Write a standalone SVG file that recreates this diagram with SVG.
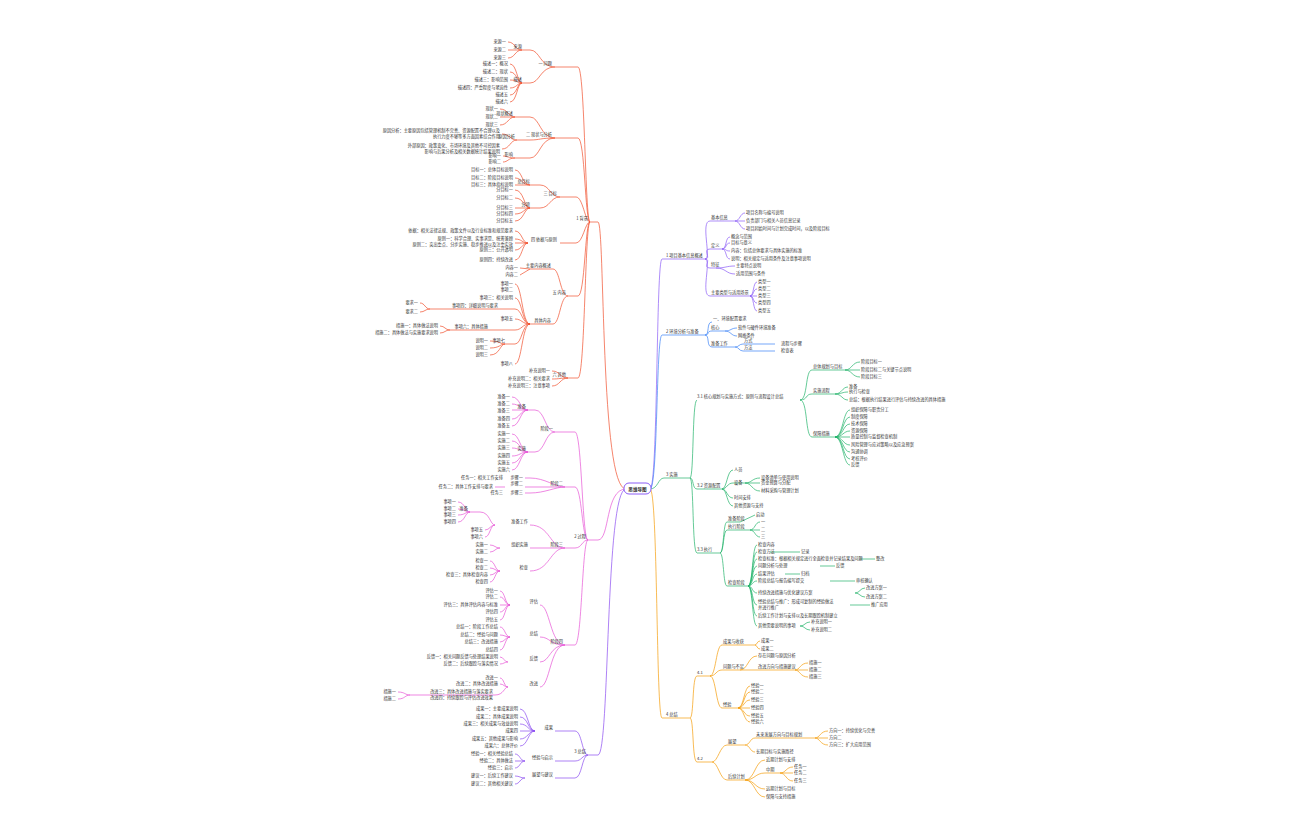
<svg xmlns="http://www.w3.org/2000/svg" width="1296" height="840" viewBox="0 0 1296 840">
<style>
text{font-family:"Noto Sans CJK SC","Liberation Sans",sans-serif;font-size:4.2px;fill:#333}
.b{font-size:4.6px}
path{fill:none;stroke-width:0.7}
.p{stroke:#8b5cf6}.u{stroke:#3b82f6}.g{stroke:#22b36a}.o{stroke:#f59e0b}.r{stroke:#f0502e}.k{stroke:#e655d6}.v{stroke:#8b4cf0}
</style>
<rect width="1296" height="840" fill="#fff"/>
<g id="connectors">
<path class="p" d="M650 489 C658 489 656 259 662 259 L705 259"/>
<path class="u" d="M650 489 C658 489 656 335 662 335 L705 335"/>
<path class="g" d="M650 489 C658 489 658 478 664 478 L690 478"/>
<path class="o" d="M650 489 C658 489 656 718 662 718 L690 718"/>
<path class="r" d="M626 489 C600 489 605 222 598 222 L590 222"/>
<path class="k" d="M626 489 C605 489 610 540 598 540 L588 540"/>
<path class="v" d="M626 489 C605 489 610 755 598 755 L588 755"/>
<path class="p" d="M705 259 C712 259 700 221 710 221 L735 221 M705 259 C712 259 702 249 710 249 L722 249 M705 259 C712 259 702 268 710 268 L716 268 M705 259 C712 259 700 296 710 296 L750 296"/>
<path class="p" d="M735 221 C740 221 740 213 745 213 M735 221 L745 221 M735 221 C740 221 740 229 745 229"/>
<path class="p" d="M722 249 C727 249 725 237 730 237 M722 249 C727 249 725 243 730 243 M722 249 C727 249 725 251 730 251 M722 249 C727 249 725 259 730 259"/>
<path class="p" d="M716 268 C726 268 726 266 735 266 M716 268 C726 268 726 274 735 274"/>
<path class="p" d="M750 296 C754 296 753 282 757 282 M750 296 C754 296 753 289 757 289 M750 296 L757 296 M750 296 C754 296 753 303 757 303 M750 296 C754 296 753 311 757 311"/>
<path class="u" d="M705 335 C710 335 706 322 712 322 M705 335 C710 335 706 331 712 331 L725 331 M705 335 C710 335 706 347 712 347 L735 347"/>
<path class="u" d="M725 331 C731 331 731 328 737 328 M725 331 C731 331 731 336 737 336 M735 347 C739 347 739 344 743 344 L775 344 M735 347 C739 347 739 351 743 351 L775 351"/>
<path class="g" d="M690 478 C694 478 692 400 697 400 M690 478 C694 478 692 489 697 489 L722 489 M690 478 C694 478 692 553 697 553 L720 553"/>
<path class="g" d="M800 400 C808 400 805 370 812 370 L845 370 M800 400 C808 400 805 394 812 394 L835 394 M800 400 C808 400 805 437 812 437 L835 437"/>
<path class="g" d="M845 370 C852 370 852 362 860 362 M845 370 L860 370 M845 370 C852 370 852 377 860 377"/>
<path class="g" d="M835 394 C842 394 842 387 848 387 M835 394 C842 394 842 392 848 392 M835 394 C842 394 842 400 848 400"/>
<path class="g" d="M835 437 C843 437 843 410 850 410 M835 437 C843 437 843 417 850 417 M835 437 C843 437 843 424 850 424 M835 437 C843 437 843 431 850 431 M835 437 L850 437 M835 437 C843 437 843 445 850 445 M835 437 C843 437 843 452 850 452 M835 437 C843 437 843 459 850 459 M835 437 C843 437 843 465 850 465"/>
<path class="g" d="M722 489 C727 489 727 470 733 470 M722 489 C727 489 727 483 733 483 L745 483 M722 489 C727 489 727 498 733 498 M722 489 C727 489 727 506 733 506 M745 483 C752 483 752 478 760 478 M745 483 L760 483 M745 483 C752 483 752 491 760 491"/>
<path class="g" d="M720 553 C724 553 723 522 727 522 L740 522 M720 553 C724 553 723 530 727 530 L750 530 M720 553 C724 553 723 586 727 586 L748 586"/>
<path class="g" d="M740 522 L755 515 M750 530 C755 530 755 522 760 522 M750 530 L760 530 M750 530 C755 530 755 537 760 537"/>
<path class="g" d="M748 586 C753 586 752 545 757 545 M748 586 C753 586 752 552 757 552 M748 586 C753 586 752 559 757 559 M748 586 C753 586 752 566 757 566 M748 586 C753 586 752 574 757 574 M748 586 C753 586 752 581 757 581 M748 586 C753 586 752 593 757 593 M748 586 C753 586 752 605 757 605 M748 586 C753 586 752 616 757 616 M748 586 C753 586 752 626 757 626"/>
<path class="g" d="M770 552 L800 552 M785 574 L800 574 M860 559 L875 559 M820 566 L835 566 M830 581 L855 581 M855 593 C860 593 860 588 865 588 M855 593 C860 593 860 597 865 597 M850 605 L870 605 M800 626 C805 626 805 622 810 622 M800 626 C805 626 805 630 810 630"/>
<path class="o" d="M690 718 C694 718 692 676 697 676 L710 676 M690 718 C694 718 692 762 697 762 L712 762"/>
<path class="o" d="M710 676 C716 676 716 645 722 645 L755 645 M710 676 C716 676 716 670 722 670 L740 670 M710 676 C716 676 716 708 722 708 L738 708"/>
<path class="o" d="M755 645 C757 645 757 641 760 641 M755 645 C757 645 757 649 760 649 M740 670 C748 670 748 656 757 656 M740 670 L757 670 L795 670 M795 670 C800 670 800 663 808 663 M795 670 L808 670 M795 670 C800 670 800 677 808 677"/>
<path class="o" d="M738 708 C744 708 744 686 750 686 M738 708 C744 708 744 692 750 692 M738 708 C744 708 744 700 750 700 M738 708 L750 708 M738 708 C744 708 744 716 750 716 M738 708 C744 708 744 722 750 722"/>
<path class="o" d="M712 762 C718 762 720 745 727 745 L745 745 M712 762 C718 762 720 780 727 780 L745 780"/>
<path class="o" d="M745 745 C750 745 750 738 755 738 L815 738 M815 738 C820 738 820 731 828 731 M815 738 L828 738 M815 738 C820 738 820 745 828 745 M745 745 C750 745 750 752 755 752"/>
<path class="o" d="M745 780 C755 780 755 760 765 760 M745 780 C755 780 755 773 765 773 L780 773 M745 780 C755 780 755 789 765 789 M745 780 C755 780 755 797 765 797 M780 773 C786 773 786 767 793 767 M780 773 L793 773 M780 773 C786 773 786 781 793 781"/>
<path class="r" d="M590 222 C585 222 585 67 578 67 L555 67 M590 222 C585 222 585 138 578 138 L555 138 M590 222 C585 222 583 197 576 197 L560 197 M590 222 C585 222 583 243 576 243 L560 243 M590 222 C585 222 585 296 578 296 L568 296 M590 222 C585 222 585 378 578 378 L568 378"/>
<path class="r" d="M555 67 C540 67 540 50 530 50 L522 50 M555 67 C540 67 540 83 530 83 L522 83"/>
<path class="r" d="M522 50 C515 50 515 42 508 42 M522 50 L508 50 M522 50 C515 50 515 58 508 58 M522 83 C517 83 517 64 510 64 M522 83 C517 83 517 72 510 72 M522 83 C517 83 517 80 510 80 M522 83 C517 83 517 88 510 88 M522 83 C517 83 517 95 510 95 M522 83 C517 83 517 102 510 102"/>
<path class="r" d="M555 138 C540 138 540 117 530 117 L515 117 M555 138 C540 138 540 140 530 140 L517 140 M555 138 C540 138 540 158 530 158 L515 158"/>
<path class="r" d="M515 117 C508 117 508 109 500 109 M515 117 L500 117 M515 117 C508 117 508 125 500 125 M517 140 C510 140 510 134 502 134 M517 140 C510 140 510 149 502 149 M515 158 C508 158 508 156 503 156 M515 158 C508 158 508 162 503 162"/>
<path class="r" d="M560 197 C550 197 550 185 540 185 L530 185 M560 197 C550 197 550 208 540 208 L530 208"/>
<path class="r" d="M530 185 C522 185 522 170 515 170 M530 185 C522 185 522 178 515 178 M530 185 L515 185 M530 208 C524 208 524 190 515 190 M530 208 C524 208 524 198 515 198 M530 208 L515 208 M530 208 C524 208 524 214 515 214 M530 208 C524 208 524 221 515 221"/>
<path class="r" d="M528 243 C522 243 522 231 515 231 M528 243 C522 243 522 239 515 239 M528 243 L515 243 M528 243 C522 243 522 250 515 250 M528 243 C522 243 522 260 515 260"/>
<path class="r" d="M568 296 C560 296 560 269 553 269 L530 269 M568 296 C560 296 560 324 553 324 L530 324"/>
<path class="r" d="M530 269 L520 268 M530 269 L520 275 M530 324 C522 324 522 284 515 284 M530 324 C522 324 522 298 515 298 M530 324 C522 324 522 309 515 309 L500 309 M530 324 C522 324 522 319 515 319 M530 324 C522 324 522 330 515 330 L490 330 M530 324 C522 324 522 344 515 344 L505 344 M530 324 C522 324 522 364 515 364"/>
<path class="r" d="M500 309 L460 309 M460 309 L430 309 C425 309 425 303 420 303 M430 309 C425 309 425 312 420 312 M490 330 L450 330 M450 330 C445 330 445 326 440 326 M450 330 C445 330 445 333 440 333 M505 344 C500 344 500 341 490 341 M505 344 C500 344 500 348 490 348 M505 344 C500 344 500 355 490 355"/>
<path class="r" d="M568 378 C560 378 560 371 552 371 M568 378 C560 378 560 379 552 379 M568 378 C560 378 560 386 552 386"/>
<path class="k" d="M588 540 C582 540 582 432 575 432 L555 432 M588 540 C582 540 582 487 575 487 L565 487 M588 540 C582 540 582 548 575 548 L565 548 M588 540 C582 540 582 645 575 645 L565 645"/>
<path class="k" d="M555 432 C545 432 545 410 535 410 L528 410 M555 432 C545 432 545 452 535 452 L528 452"/>
<path class="k" d="M528 410 C520 410 520 397 512 397 M528 410 C520 410 520 404 512 404 M528 410 L512 410 M528 410 C520 410 520 419 512 419 M528 410 C520 410 520 426 512 426"/>
<path class="k" d="M528 452 C520 452 520 434 512 434 M528 452 C520 452 520 441 512 441 M528 452 C520 452 520 448 512 448 M528 452 C520 452 520 456 512 456 M528 452 C520 452 520 463 512 463 M528 452 C520 452 520 470 512 470"/>
<path class="k" d="M565 487 C555 487 545 478 530 478 L525 478 M565 487 L525 487 M565 487 C555 487 545 493 530 493 L525 493 M505 487 L495 487"/>
<path class="k" d="M565 548 C550 548 550 525 530 525 M565 548 L530 548 M565 548 C550 548 550 571 530 571"/>
<path class="k" d="M495 525 C490 525 490 512 480 512 L470 512 M470 512 C465 512 465 502 458 502 M470 512 C465 512 465 509 458 509 M470 512 C465 512 465 515 458 515 M470 512 C465 512 465 522 458 522 M495 525 C490 525 490 530 485 530 M495 525 C490 525 490 537 485 537"/>
<path class="k" d="M500 548 C495 548 495 545 490 545 M500 548 C495 548 495 552 490 552 M500 571 C495 571 495 561 490 561 M500 571 C495 571 495 568 490 568 M500 571 C495 571 495 575 490 575 M500 571 C495 571 495 582 490 582"/>
<path class="k" d="M565 645 C550 645 550 605 540 605 M565 645 C550 645 550 637 540 637 M565 645 C550 645 550 662 540 662 M565 645 C550 645 550 687 540 687"/>
<path class="k" d="M510 605 C505 605 505 591 500 591 M510 605 C505 605 505 597 500 597 M510 605 L500 605 M510 605 C505 605 505 612 500 612 M510 605 C505 605 505 620 500 620 M510 637 C505 637 505 627 500 627 M510 637 C505 637 505 635 500 635 M510 637 C505 637 505 642 500 642 M510 637 C505 637 505 650 500 650 M508 662 C504 662 504 657 500 657 M508 662 C504 662 504 664 500 664 M508 687 C504 687 504 678 500 678 M508 687 C504 687 504 684 500 684 M508 687 C504 687 504 695 495 695 L410 695 M410 695 C405 695 405 692 398 692 M410 695 C405 695 405 699 398 699"/>
<path class="v" d="M588 755 C582 755 582 731 575 731 L555 731 M588 755 C582 755 582 761 575 761 L555 761 M588 755 C582 755 582 778 575 778 L555 778"/>
<path class="v" d="M535 731 C528 731 528 709 520 709 M535 731 C528 731 528 717 520 717 M535 731 C528 731 528 724 520 724 M535 731 L520 731 M535 731 C528 731 528 739 520 739 M535 731 C528 731 528 746 520 746"/>
<path class="v" d="M525 761 C520 761 520 754 515 754 M525 761 L515 761 M525 761 C520 761 520 768 515 768 M525 778 C520 778 520 776 515 776 M525 778 C520 778 520 784 515 784"/>
</g>
<g id="center"><rect x="624" y="483" width="27" height="11" rx="5" fill="#fff" stroke="#8b5cf6" stroke-width="1"/><text x="637.5" y="490.5" text-anchor="middle" class="b" style="font-weight:bold">思维导图</text></g>
<g id="right">
<text x="666" y="257">1 项目基本信息概述</text>
<text x="711" y="219">基本信息</text><text x="746" y="214">项目名称与编号说明</text><text x="746" y="222">负责部门与相关人员信息记录</text><text x="746" y="230">项目起始时间与计划完成时间，以及阶段目标</text>
<text x="711" y="247">定义</text><text x="731" y="238">概念与范围</text><text x="731" y="244">目标与意义</text><text x="731" y="252">内容：包括总体要求与具体实施的标准</text><text x="731" y="260">说明：相关规定与适用条件及注意事项说明</text>
<text x="711" y="266">特征</text><text x="736" y="267">主要特点说明</text><text x="736" y="275">适用范围与条件</text>
<text x="711" y="294">主要类型与适用场景</text><text x="758" y="283">类型一</text><text x="758" y="290">类型二</text><text x="758" y="297">类型三</text><text x="758" y="304">类型四</text><text x="758" y="312">类型五</text>
<text x="666" y="333">2 环境分析与准备</text>
<text x="713" y="320">一、环境配置要求</text><text x="711" y="329">核心</text><text x="738" y="329">软件与硬件环境准备</text><text x="738" y="337">网络条件</text>
<text x="711" y="345">准备工作</text><text x="744" y="342">方式</text><text x="744" y="349">方法</text><text x="781" y="345">流程与步骤</text><text x="781" y="352">检查表</text>
<text x="666" y="476">3 实施</text>
<text x="697" y="398">3.1 核心规划与实施方式：原则与流程设计总结</text>
<text x="813" y="368">总体规划与目标</text><text x="861" y="363">阶段目标一</text><text x="861" y="371">阶段目标二与关键节点说明</text><text x="861" y="378">阶段目标三</text>
<text x="813" y="392">实施流程</text><text x="849" y="388">准备</text><text x="849" y="393">执行与检查</text><text x="849" y="401">总结：根据执行结果进行评估与持续改进的具体措施</text>
<text x="813" y="435">保障措施</text><text x="851" y="411">组织保障与职责分工</text><text x="851" y="418">制度保障</text><text x="851" y="425">技术保障</text><text x="851" y="432">资源保障</text><text x="851" y="438">质量控制与监督检查机制</text><text x="851" y="446">风险管理与应对策略以及应急预案</text><text x="851" y="453">沟通协调</text><text x="851" y="460">考核评价</text><text x="851" y="466">反馈</text>
<text x="697" y="487">3.2 资源配置</text>
<text x="734" y="471">人员</text><text x="734" y="484">设备</text><text x="761" y="479">设备清单与使用说明</text><text x="761" y="484">资金预算与分配</text><text x="761" y="492">材料采购与管理计划</text><text x="734" y="499">时间安排</text><text x="734" y="507">其他资源与支持</text>
<text x="697" y="551">3.3 执行</text>
<text x="728" y="520">准备阶段</text><text x="756" y="516">启动</text><text x="728" y="528">执行阶段</text><text x="761" y="523">一</text><text x="761" y="531">二</text><text x="761" y="538">三</text>
<text x="728" y="584">检查阶段</text><text x="758" y="546">检查内容</text><text x="758" y="553">检查方法</text><text x="801" y="553">记录</text><text x="758" y="560">检查标准：根据相关规定进行全面检查并记录结果及问题</text><text x="876" y="560">整改</text><text x="758" y="567">问题分析与处理</text><text x="836" y="567">反馈</text><text x="758" y="575">结果评估</text><text x="801" y="575">归档</text><text x="758" y="582">阶段总结与报告编写提交</text><text x="856" y="582">审核确认</text><text x="758" y="594">持续改进措施与优化建议方案</text><text x="866" y="589">改进方案一</text><text x="866" y="598">改进方案二</text><text x="758" y="603">经验总结与推广：形成可复制的经验做法</text><text x="758" y="609">并进行推广</text><text x="871" y="606">推广应用</text><text x="758" y="617">后续工作计划与安排以及长期跟踪机制建立</text><text x="758" y="627">其他需要说明的事项</text><text x="811" y="623">补充说明一</text><text x="811" y="631">补充说明二</text>
<text x="666" y="716">4 总结</text>
<text x="697" y="674">4.1</text><text x="723" y="643">成果与收获</text><text x="761" y="642">成果一</text><text x="761" y="650">成果二</text>
<text x="723" y="668">问题与不足</text><text x="758" y="657">存在问题与原因分析</text><text x="758" y="668">改进方向与措施建议</text><text x="809" y="664">措施一</text><text x="809" y="671">措施二</text><text x="809" y="678">措施三</text>
<text x="723" y="706">经验</text><text x="751" y="687">经验一</text><text x="751" y="693">经验二</text><text x="751" y="701">经验三</text><text x="751" y="709">经验四</text><text x="751" y="717">经验五</text><text x="751" y="723">经验六</text>
<text x="697" y="760">4.2</text><text x="728" y="743">展望</text><text x="756" y="736">未来发展方向与目标规划</text><text x="829" y="732">方向一：持续优化与完善</text><text x="829" y="739">方向二</text><text x="829" y="746">方向三：扩大应用范围</text><text x="756" y="753">长期目标与实施路径</text>
<text x="728" y="778">后续计划</text><text x="766" y="761">近期计划与安排</text><text x="766" y="771">中期</text><text x="794" y="768">任务一</text><text x="794" y="774">任务二</text><text x="794" y="782">任务三</text><text x="766" y="790">远期计划与目标</text><text x="766" y="798">保障与支持措施</text>
</g>
<g id="left" text-anchor="end">
<text x="588" y="220">1 背景</text>
<text x="552" y="65">一 问题</text><text x="522" y="48">来源</text><text x="506" y="43">来源一</text><text x="506" y="51">来源二</text><text x="506" y="59">来源三</text>
<text x="522" y="81">描述</text><text x="508" y="65">描述一：概况</text><text x="508" y="73">描述二：现状</text><text x="508" y="81">描述三：影响范围</text><text x="508" y="89">描述四：严重程度与紧迫性</text><text x="508" y="96">描述五</text><text x="508" y="103">描述六</text>
<text x="552" y="136">二 现状与分析</text><text x="513" y="115">现状概述</text><text x="498" y="110">现状一</text><text x="498" y="118">现状二</text><text x="498" y="126">现状三</text>
<text x="515" y="138">原因分析</text><text x="500" y="132">原因分析：主要原因包括管理机制不完善、资源配置不合理以及</text><text x="500" y="138">执行力度不够等多方面因素综合作用</text><text x="500" y="147">外部原因：政策变化、市场环境及其他不可控因素</text><text x="500" y="153">影响与后果分析及相关数据统计结果说明</text>
<text x="513" y="156">影响</text><text x="501" y="157">影响一</text><text x="501" y="163">影响二</text>
<text x="557" y="195">三 目标</text><text x="530" y="183">总目标</text><text x="513" y="171">目标一：总体目标说明</text><text x="513" y="179">目标二：阶段目标说明</text><text x="513" y="186">目标三：具体指标说明</text>
<text x="530" y="206">分项</text><text x="513" y="191">分目标一</text><text x="513" y="199">分目标二</text><text x="513" y="209">分目标三</text><text x="513" y="215">分目标四</text><text x="513" y="222">分目标五</text>
<text x="557" y="241">四 依据与原则</text><text x="513" y="232">依据：相关法律法规、政策文件以及行业标准和规范要求</text><text x="513" y="240">原则一：科学合理、实事求是、统筹兼顾</text><text x="513" y="246">原则二：突出重点、分步实施、稳步推进以及注重实效</text><text x="513" y="251">原则三：公开透明</text><text x="513" y="261">原则四：持续改进</text>
<text x="566" y="294">五 内容</text><text x="551" y="267">主要内容概述</text><text x="518" y="269">内容一</text><text x="518" y="276">内容二</text>
<text x="551" y="322">具体内容</text><text x="513" y="285">事项一</text><text x="513" y="291">事项二</text><text x="513" y="299">事项三：相关说明</text><text x="498" y="307">事项四：详细说明与要求</text><text x="418" y="304">要求一</text><text x="418" y="313">要求二</text><text x="513" y="320">事项五</text><text x="488" y="328">事项六：具体措施</text><text x="438" y="327">措施一：具体做法说明</text><text x="438" y="334">措施二：具体做法与实施要求说明</text>
<text x="505" y="342">事项七</text><text x="488" y="342">说明一</text><text x="488" y="349">说明二</text><text x="488" y="356">说明三</text><text x="513" y="365">事项八</text>
<text x="566" y="376">六 其他</text><text x="550" y="372">补充说明一</text><text x="550" y="380">补充说明二：相关要求</text><text x="550" y="387">补充说明三：注意事项</text>
<text x="586" y="538">2 过程</text>
<text x="553" y="430">阶段一</text><text x="526" y="408">准备</text><text x="510" y="398">准备一</text><text x="510" y="405">准备二</text><text x="510" y="412">准备三</text><text x="510" y="420">准备四</text><text x="510" y="427">准备五</text>
<text x="526" y="450">实施</text><text x="510" y="435">实施一</text><text x="510" y="442">实施二</text><text x="510" y="449">实施三</text><text x="510" y="457">实施四</text><text x="510" y="464">实施五</text><text x="510" y="471">实施六</text>
<text x="563" y="485">阶段二</text><text x="523" y="479">步骤一</text><text x="523" y="485">步骤二</text><text x="523" y="494">步骤三</text><text x="503" y="479">任务一：相关工作安排</text><text x="493" y="488">任务二：具体工作安排与要求</text><text x="503" y="494">任务三</text>
<text x="563" y="546">阶段三</text><text x="528" y="523">准备工作</text><text x="468" y="510">准备</text><text x="456" y="503">事项一</text><text x="456" y="510">事项二</text><text x="456" y="516">事项三</text><text x="456" y="523">事项四</text><text x="483" y="531">事项五</text><text x="483" y="538">事项六</text>
<text x="528" y="546">组织实施</text><text x="488" y="546">实施一</text><text x="488" y="553">实施二</text><text x="528" y="569">检查</text><text x="488" y="562">检查一</text><text x="488" y="569">检查二</text><text x="488" y="576">检查三：具体检查内容</text><text x="488" y="583">检查四</text>
<text x="563" y="643">阶段四</text><text x="538" y="603">评估</text><text x="498" y="592">评估一</text><text x="498" y="598">评估二</text><text x="498" y="606">评估三：具体评估内容与标准</text><text x="498" y="613">评估四</text><text x="498" y="621">评估五</text>
<text x="538" y="635">总结</text><text x="498" y="628">总结一：阶段工作总结</text><text x="498" y="636">总结二：经验与问题</text><text x="498" y="643">总结三：改进措施</text><text x="498" y="651">总结四</text>
<text x="538" y="660">反馈</text><text x="498" y="658">反馈一：相关问题反馈与处理结果说明</text><text x="498" y="665">反馈二：后续跟踪与落实情况</text>
<text x="538" y="685">改进</text><text x="498" y="679">改进一</text><text x="498" y="685">改进二：具体改进措施</text><text x="493" y="693">改进三：具体改进措施与落实要求</text><text x="493" y="699">改进四：持续跟踪与评估改进效果</text><text x="396" y="693">措施一</text><text x="396" y="700">措施二</text>
<text x="586" y="753">3 总结</text><text x="553" y="729">成果</text><text x="518" y="710">成果一：主要成果说明</text><text x="518" y="718">成果二：具体成果说明</text><text x="518" y="725">成果三：相关成果与效益说明</text><text x="518" y="732">成果四</text><text x="518" y="740">成果五：其他成果与影响</text><text x="518" y="747">成果六：总体评价</text>
<text x="553" y="759">经验与启示</text><text x="513" y="755">经验一：相关经验总结</text><text x="513" y="762">经验二：具体做法</text><text x="513" y="769">经验三：启示</text>
<text x="553" y="776">展望与建议</text><text x="513" y="777">建议一：后续工作建议</text><text x="513" y="785">建议二：其他相关建议</text>
</g>
</svg>
